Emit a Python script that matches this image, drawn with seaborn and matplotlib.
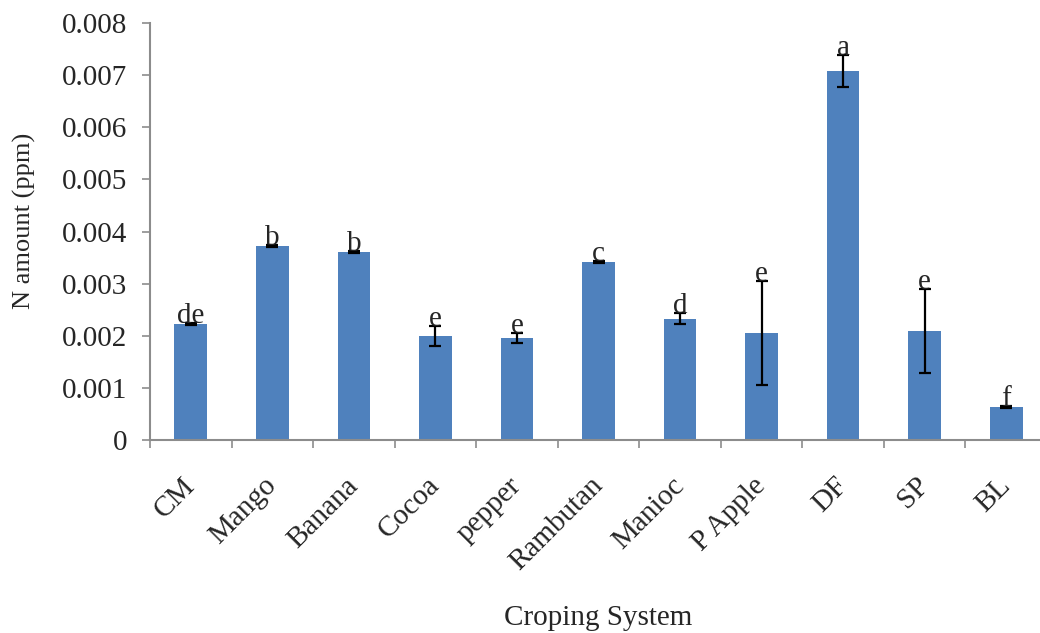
import numpy as np
import pandas as pd
import matplotlib
matplotlib.use("Agg")
import matplotlib.pyplot as plt
from matplotlib.ticker import FixedLocator
import seaborn as sns

# ── data ──
systems = ['CM', 'Mango', 'Banana', 'Cocoa', 'pepper', 'Rambutan',
           'Manioc', 'P Apple', 'DF', 'SP', 'BL']
n_amount = [0.00223, 0.00372, 0.00361, 0.00200, 0.00196, 0.00342,
            0.00233, 0.00205, 0.00708, 0.00209, 0.00064]
n_error = [0.00002, 0.00002, 0.00002, 0.00019, 0.00010, 0.00002,
           0.00010, 0.00100, 0.00030, 0.00080, 0.00002]
sig_letters = ['de', 'b', 'b', 'e', 'e', 'c', 'd', 'e', 'a', 'e', 'f']
y_ticks = [0, 0.001, 0.002, 0.003, 0.004, 0.005, 0.006, 0.007, 0.008]

df = pd.DataFrame({'system': systems, 'amount': n_amount, 'err': n_error})

sns.set_style("white")
plt.rcParams['font.family'] = ['Liberation Serif', 'DejaVu Serif']
plt.rcParams['font.size'] = 21

fig = plt.figure(figsize=(10.40, 6.33), dpi=100)
# axis spans 150 px -> 1047 px horizontally, 23 px -> 440 px vertically
ax = fig.add_axes([150 / 1040, 1 - 440 / 633, (1047 - 150) / 1040, (440 - 23) / 633])

bar_color = '#4F81BD'
sns.barplot(data=df, x='system', y='amount', color=bar_color, saturation=1,
            width=0.40, linewidth=0, errorbar=None, ax=ax)

xpos = np.arange(len(systems))
ax.errorbar(xpos, df['amount'], yerr=df['err'], fmt='none', ecolor='black',
            elinewidth=1.6, capsize=4.5, capthick=1.6, zorder=5)

for x, m, e, lab in zip(xpos, df['amount'], df['err'], sig_letters):
    ax.text(x, m + e, lab, ha='center', va='baseline', fontsize=21, zorder=6)

ax.set_xlim(-0.5, len(systems) - 0.5)
ax.set_ylim(0, 0.008)
ax.yaxis.set_major_locator(FixedLocator(y_ticks))
ax.set_yticklabels(['0'] + [f'{v:.3f}' for v in y_ticks[1:]])

# category labels at centres, tick marks at boundaries (Excel style)
ax.set_xticks(xpos)
ax.set_xticklabels(systems, rotation=45, ha='right', va='center',
                   rotation_mode='anchor')
ax.set_xticks(np.arange(-0.5, len(systems) - 0.4, 1.0), minor=True)
ax.tick_params(axis='x', which='major', length=0, pad=30, labelsize=21)
ax.tick_params(axis='x', which='minor', length=6, width=1.2, color='#8C8C8C',
               direction='out', bottom=True)
ax.tick_params(axis='y', length=5.5, width=1.2, color='#8C8C8C', direction='out',
               left=True, pad=11, labelsize=21)

for side in ['top', 'right']:
    ax.spines[side].set_visible(False)
for side in ['left', 'bottom']:
    ax.spines[side].set_color('#8C8C8C')
    ax.spines[side].set_linewidth(1.5)

ax.set_xlabel('Croping System', fontsize=21)
ax.set_ylabel('N amount (ppm)', fontsize=19)
ax.xaxis.set_label_coords(0.5, -(605 - 440) / 417)
ax.yaxis.set_label_coords(-(150 - 36) / 897, 0.525)

fig.savefig('out.png', dpi=100)
